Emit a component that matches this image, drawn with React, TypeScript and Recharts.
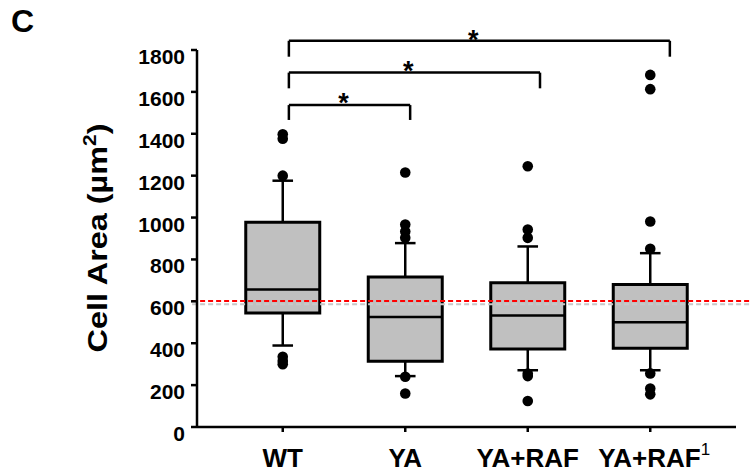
import React from 'react'
import {
  ComposedChart,
  XAxis,
  YAxis,
  Label,
  Scatter,
  ReferenceArea,
  ReferenceLine,
  ReferenceDot,
} from 'recharts'

// box plot summary per group (cell area, µm²)
const groups = ['WT', 'YA', 'YA+RAF', 'YA+RAF']
const groupSup = ['', '', '', '1']
const q1 = [544, 314, 373, 376]
const median = [657, 525, 532, 500]
const q3 = [977, 716, 689, 680]
const whiskerLow = [389, 243, 271, 271]
const whiskerHigh = [1176, 878, 862, 830]
const outliers = [
  [1398, 1376, 1200, 335, 315, 300],
  [1215, 967, 933, 903, 240, 160],
  [1245, 943, 903, 255, 243, 124],
  [1681, 1613, 981, 851, 256, 184, 156],
]

// reference levels
const redLevel = 601
const grayLevel = 586

// significance brackets (WT vs each group)
const sigTo = [2, 3, 4]
const sigTop = [1537, 1692, 1844]
const sigLeg = [1466, 1617, 1768]
const starY = [1576, 1726, 1878]

const yTicks = [0, 200, 400, 600, 800, 1000, 1200, 1400, 1600, 1800]

const FONT = '"Liberation Sans", Arial, Helvetica, sans-serif'
const BOX_HALF = 0.302
const CAP_HALF = 0.084

const outlierPoints = outliers.flatMap((vals, i) => vals.map((y) => ({ x: i + 1, y })))
const bracketRight = (k: number) => sigTo[k] + 0.04 + 0.06 * k

const YTick = (p: any) => (
  <text x={p.x} y={p.y + 14} textAnchor="end" fontSize={21} fontWeight="bold" fontFamily={FONT} fill="#000">
    {p.payload.value}
  </text>
)

const XTick = (p: any) => {
  const i = p.payload.value - 1
  const sup = groupSup[i]
  return (
    <text x={p.x + (sup ? 4 : 0)} y={p.y + 33} textAnchor="middle" fontSize={26} fontWeight="bold" fontFamily={FONT} fill="#000">
      {groups[i]}
      {sup && (
        <tspan dy={-12} fontSize={17} fontWeight="normal">
          {sup}
        </tspan>
      )}
    </text>
  )
}

const Dot = (p: any) => <circle cx={p.cx} cy={p.cy} r={5.3} fill="#000" />

const Star = (p: any) => (
  <text x={p.cx} y={p.cy + 15} textAnchor="middle" fontSize={27} fontFamily={FONT} fontWeight="bold" fill="#000">
    *
  </text>
)

export default function App() {
  const line = { stroke: '#000', strokeWidth: 2.5 }
  return (
    <div style={{ position: 'relative', width: 752, height: 475, background: '#fff' }}>
      <style>{'body{margin:0}'}</style>
      <div style={{ position: 'absolute', left: 11, top: 3, fontFamily: FONT, fontWeight: 'bold', fontSize: 32 }}>C</div>
      <ComposedChart width={752} height={475} margin={{ top: 50, right: 16, bottom: 8, left: 0 }}>
        <XAxis
          type="number"
          dataKey="x"
          domain={[0.3, 4.7]}
          ticks={[1, 2, 3, 4]}
          allowDataOverflow
          height={40}
          tickSize={5}
          tickMargin={2}
          axisLine={line}
          tickLine={line}
          tick={<XTick />}
        />
        <YAxis
          type="number"
          dataKey="y"
          domain={[0, 1800]}
          ticks={yTicks}
          allowDataOverflow
          width={197}
          tickSize={6}
          tickMargin={6}
          axisLine={line}
          tickLine={line}
          tick={<YTick />}
        >
          <Label
            content={() => (
              <text
                x={107}
                y={238}
                transform="rotate(-90, 107, 238)"
                textAnchor="middle"
                fontSize={28}
                fontWeight="bold"
                fontFamily={FONT}
                fill="#000"
                textLength={229}
                lengthAdjust="spacingAndGlyphs"
              >
                Cell Area (µm
                <tspan dy={-11} fontSize={18}>2</tspan>
                <tspan dy={11}>)</tspan>
              </text>
            )}
          />
        </YAxis>

        {groups.map((g, i) => (
          <ReferenceLine
            key={`wh-${i}`}
            segment={[{ x: i + 1, y: q3[i] }, { x: i + 1, y: whiskerHigh[i] }]}
            stroke="#000"
            strokeWidth={2.5}
          />
        ))}
        {groups.map((g, i) => (
          <ReferenceLine
            key={`wl-${i}`}
            segment={[{ x: i + 1, y: q1[i] }, { x: i + 1, y: whiskerLow[i] }]}
            stroke="#000"
            strokeWidth={2.5}
          />
        ))}
        {groups.map((g, i) => (
          <ReferenceLine
            key={`ch-${i}`}
            segment={[{ x: i + 1 - CAP_HALF, y: whiskerHigh[i] }, { x: i + 1 + CAP_HALF, y: whiskerHigh[i] }]}
            stroke="#000"
            strokeWidth={2.5}
          />
        ))}
        {groups.map((g, i) => (
          <ReferenceLine
            key={`cl-${i}`}
            segment={[{ x: i + 1 - CAP_HALF, y: whiskerLow[i] }, { x: i + 1 + CAP_HALF, y: whiskerLow[i] }]}
            stroke="#000"
            strokeWidth={2.5}
          />
        ))}
        {groups.map((g, i) => (
          <ReferenceArea
            key={`box-${i}`}
            x1={i + 1 - BOX_HALF}
            x2={i + 1 + BOX_HALF}
            y1={q1[i]}
            y2={q3[i]}
            fill="#c0c0c0"
            fillOpacity={1}
            stroke="#000"
            strokeWidth={3}
          />
        ))}
        {groups.map((g, i) => (
          <ReferenceLine
            key={`med-${i}`}
            segment={[{ x: i + 1 - BOX_HALF, y: median[i] }, { x: i + 1 + BOX_HALF, y: median[i] }]}
            stroke="#000"
            strokeWidth={2.5}
          />
        ))}

        <ReferenceLine
          segment={[{ x: 0.26, y: grayLevel }, { x: 4.83, y: grayLevel }]}
          stroke="#c8c8c8"
          strokeWidth={2}
          strokeDasharray="5 3"
          ifOverflow="visible"
        />
        <ReferenceLine
          segment={[{ x: 0.26, y: redLevel }, { x: 4.83, y: redLevel }]}
          stroke="#ff0000"
          strokeWidth={2}
          strokeDasharray="5 3"
          ifOverflow="visible"
        />

        {sigTo.map((to, k) => (
          <ReferenceLine
            key={`br-${k}`}
            segment={[{ x: 1.05, y: sigTop[k] }, { x: bracketRight(k), y: sigTop[k] }]}
            stroke="#000"
            strokeWidth={2.5}
            ifOverflow="visible"
          />
        ))}
        {sigTo.map((to, k) => (
          <ReferenceLine
            key={`bl-${k}`}
            segment={[{ x: 1.05, y: sigTop[k] }, { x: 1.05, y: sigLeg[k] }]}
            stroke="#000"
            strokeWidth={2.5}
            ifOverflow="visible"
          />
        ))}
        {sigTo.map((to, k) => (
          <ReferenceLine
            key={`brr-${k}`}
            segment={[{ x: bracketRight(k), y: sigTop[k] }, { x: bracketRight(k), y: sigLeg[k] }]}
            stroke="#000"
            strokeWidth={2.5}
            ifOverflow="visible"
          />
        ))}
        {sigTo.map((to, k) => (
          <ReferenceDot
            key={`st-${k}`}
            x={(1.05 + bracketRight(k)) / 2 - 0.05}
            y={starY[k]}
            r={0}
            ifOverflow="visible"
            shape={<Star />}
          />
        ))}

        <Scatter data={outlierPoints} shape={<Dot />} isAnimationActive={false} />
      </ComposedChart>
    </div>
  )
}
